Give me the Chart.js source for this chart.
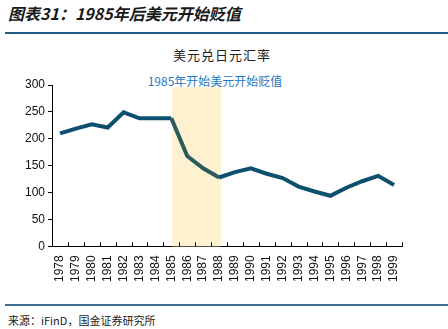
<!DOCTYPE html>
<html>
<head>
<meta charset="utf-8">
<script src="https://cdn.jsdelivr.net/npm/chart.js@4.4.0/dist/chart.umd.min.js"></script>
<style>
  body { margin: 0; background: #fff; width: 448px; height: 329px; position: relative; overflow: hidden; }
  .hdr { position: absolute; left: 8px; top: 1px; font: italic bold 16px "Noto Sans CJK SC", sans-serif; color: #1a1a1a; }
  .rule { position: absolute; left: 5px; right: 0; height: 2px; background: #1d5b86; }
  .ttl { position: absolute; left: 0; width: 444px; top: 45px; text-align: center; font: 13px "Noto Sans CJK SC", sans-serif; color: #222; letter-spacing: 1px; }
  .note { position: absolute; left: 0; width: 430px; top: 72px; text-align: center; font: 12px "Noto Sans CJK SC", sans-serif; color: #1f78c1; }
  .src { position: absolute; left: 8px; top: 312px; font: 11px "Noto Sans CJK SC", sans-serif; color: #222; }
  #wrap { position: absolute; left: 0; top: 40px; width: 448px; height: 260px; }
</style>
</head>
<body>
<div class="hdr">图表31：1985年后美元开始贬值</div>
<div class="rule" style="top:32px"></div>
<div class="ttl">美元兑日元汇率</div>
<div class="note">1985年开始美元开始贬值</div>
<div id="wrap"><canvas id="fx"></canvas></div>
<div class="rule" style="top:304px; background:#3d6f94"></div>
<div class="src">来源：iFinD，国金证券研究所</div>
<script>
const years = ["1978","1979","1980","1981","1982","1983","1984","1985","1986","1987","1988",
  "1989","1990","1991","1992","1993","1994","1995","1996","1997","1998","1999"];
const usdJpy = [210, 219, 227, 221, 249, 238, 238, 238, 168, 145, 128,
  138, 145, 135, 127, 111, 102, 94, 109, 121, 131, 114];
const yTicks = [0, 50, 100, 150, 200, 250, 300];
// shaded period: 1985 -> 1988
const shadeFrom = "1985";
const shadeTo = "1988";
const shadeTop = 296;

const lineColor = "#0d4f6e";
const lineInShade = "#2b5b5c";
const iFrom = years.indexOf(shadeFrom);
const iTo = years.indexOf(shadeTo);

const shadePlugin = {
  id: "shade",
  beforeDatasetsDraw(chart) {
    const { ctx, scales: { x, y } } = chart;
    const left = x.getPixelForValue(iFrom) + 1;
    const right = x.getPixelForValue(iTo) + 2;
    const top = y.getPixelForValue(shadeTop);
    const bottom = y.getPixelForValue(0);
    ctx.save();
    ctx.fillStyle = "#fef1cf";
    ctx.fillRect(left, top, right - left, bottom - top);
    ctx.restore();
  },
  afterDraw(chart) {
    // small inward tick marks on the x axis, between categories
    const { ctx, scales: { x, y } } = chart;
    const base = y.getPixelForValue(0);
    const step = x.getPixelForValue(1) - x.getPixelForValue(0);
    ctx.save();
    ctx.strokeStyle = "#000";
    ctx.lineWidth = 1;
    ctx.beginPath();
    for (let i = 0; i <= years.length; i++) {
      const px = Math.round(x.getPixelForValue(i) - step / 2) + 0.5;
      ctx.moveTo(px, base);
      ctx.lineTo(px, base - 4);
    }
    ctx.stroke();
    ctx.restore();
  }
};

new Chart(document.getElementById("fx"), {
  type: "line",
  data: {
    labels: years,
    datasets: [{
      data: usdJpy,
      borderColor: lineColor,
      borderWidth: 4,
      pointRadius: 0,
      tension: 0,
      fill: false,
      segment: {
        borderColor: c => (c.p0DataIndex >= iFrom && c.p1DataIndex <= iTo) ? lineInShade : lineColor
      }
    }]
  },
  options: {
    responsive: true,
    maintainAspectRatio: false,
    animation: false,
    layout: { padding: { top: 45, bottom: 9, left: 22, right: 46 } },
    plugins: { legend: { display: false }, tooltip: { enabled: false } },
    scales: {
      x: {
        offset: true,
        border: { color: "#000", width: 1 },
        grid: { display: false, drawTicks: false },
        ticks: {
          color: "#111",
          font: { family: "Liberation Sans", size: 12 },
          maxRotation: 90,
          minRotation: 90,
          autoSkip: false,
          padding: 9
        }
      },
      y: {
        min: 0,
        max: 300,
        afterBuildTicks: s => { s.ticks = yTicks.map(v => ({ value: v })); },
        border: { color: "#000", width: 1 },
        grid: { drawOnChartArea: false, tickLength: 4, color: "#000" },
        ticks: {
          color: "#111",
          font: { family: "Liberation Sans", size: 12 },
          padding: 3
        }
      }
    }
  },
  plugins: [shadePlugin]
});
</script>
</body>
</html>
